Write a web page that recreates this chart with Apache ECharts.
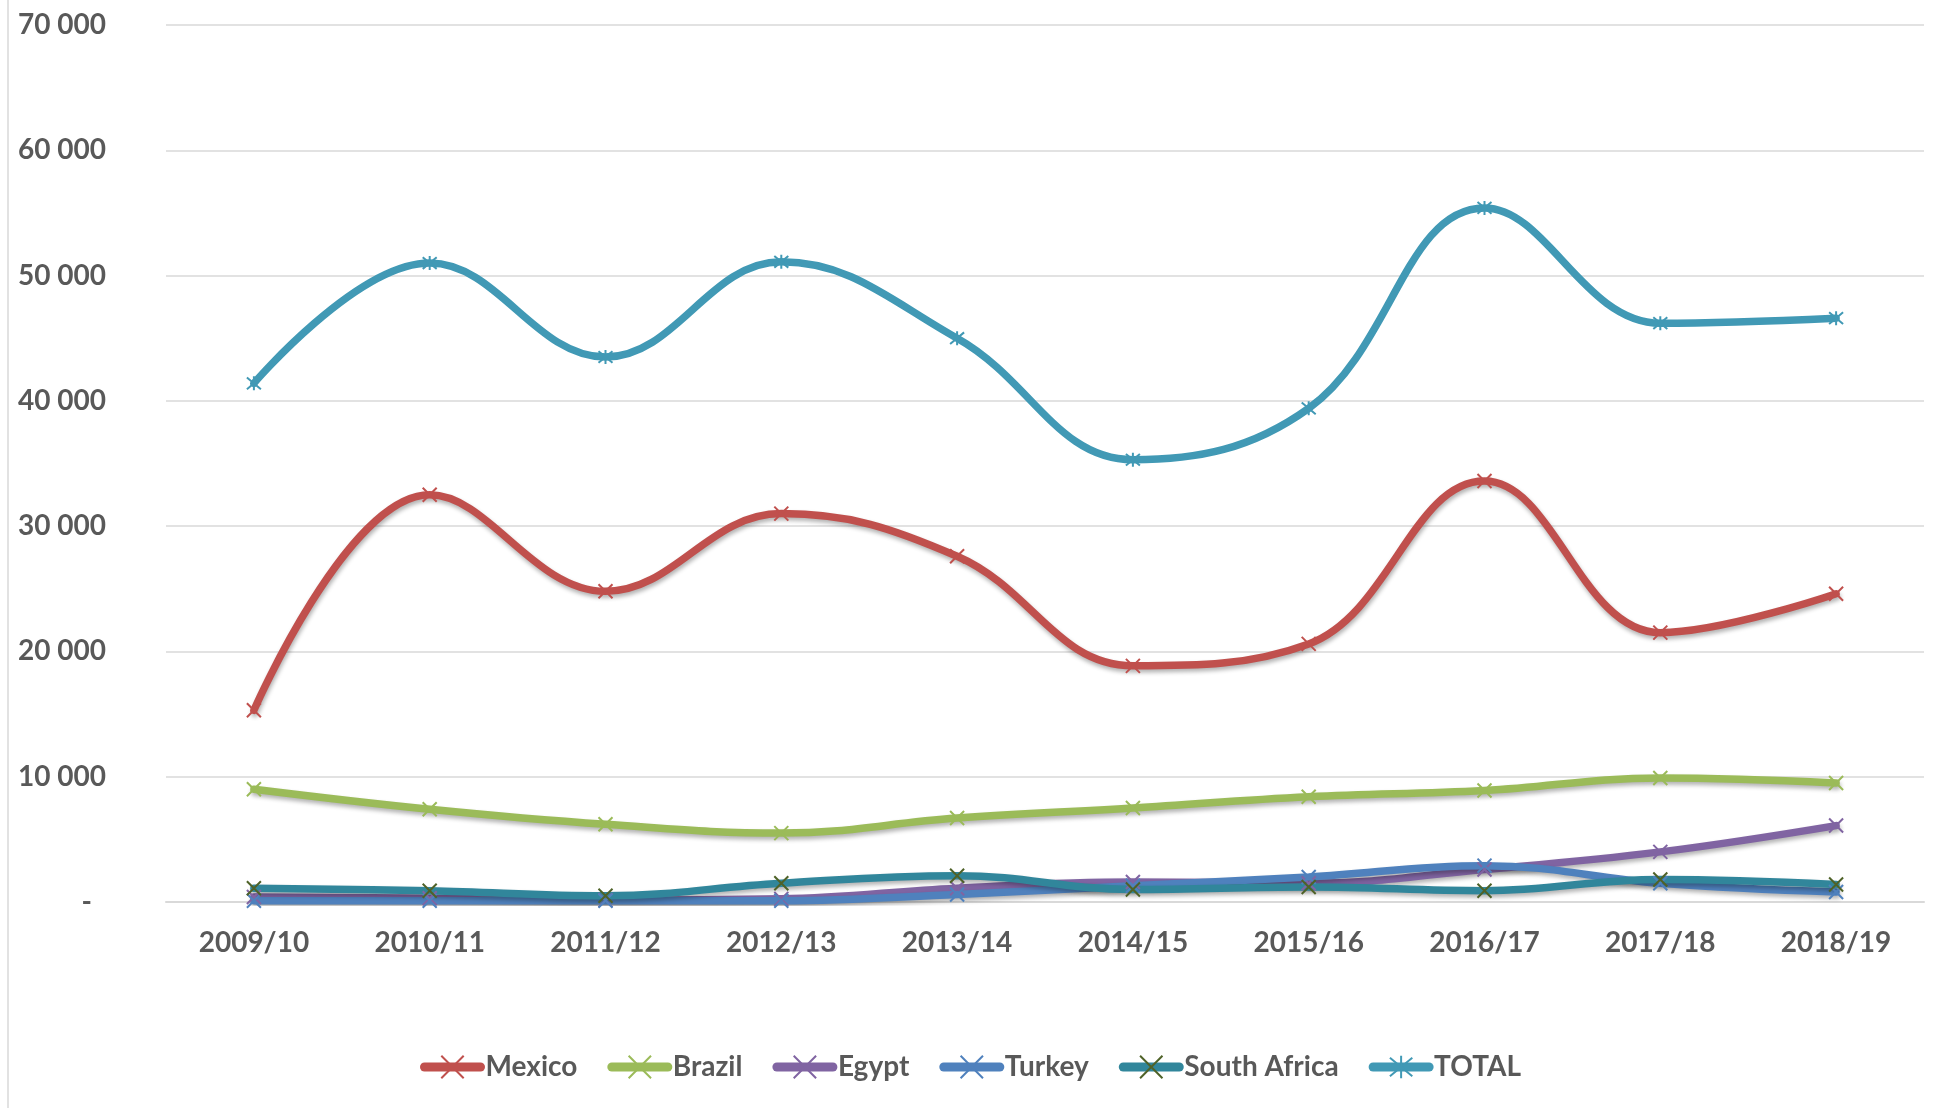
<!DOCTYPE html>
<html>
<head>
<meta charset="utf-8">
<script src="https://cdn.jsdelivr.net/npm/echarts@6/dist/echarts.min.js"></script>
<style>html,body{margin:0;padding:0;background:#fff;}#c{width:1941px;height:1108px;}</style>
</head>
<body>
<div id="c"></div>
<script>
var categories = ['2009/10','2010/11','2011/12','2012/13','2013/14','2014/15','2015/16','2016/17','2017/18','2018/19'];
var mexico = [15300, 32500, 24800, 31000, 27600, 18850, 20600, 33600, 21500, 24600];
var brazil = [9000, 7400, 6200, 5500, 6700, 7500, 8400, 8900, 9900, 9500];
var egypt = [400, 300, 150, 250, 1100, 1600, 1500, 2600, 4000, 6100];
var turkey = [100, 100, 100, 100, 600, 1300, 2000, 2900, 1500, 800];
var southAfrica = [1100, 900, 500, 1500, 2100, 1000, 1200, 900, 1800, 1400];
var total = [41400, 51000, 43500, 51100, 45000, 35300, 39400, 55400, 46200, 46600];
var yTicks = [0, 10000, 20000, 30000, 40000, 50000, 60000, 70000];

var FONT = 'Lato';
var XPATH = 'path://M0,0L10,10M10,0L0,10';
var STARPATH = 'path://M0,0L10,10M10,0L0,10M5,-1L5,11';

function mk(name, data, color, markerColor, sym, shadow) {
  return {
    name: name, type: 'line', data: data, smooth: 0.4,
    symbol: sym, symbolSize: 14, showSymbol: true,
    color: color,
    lineStyle: {
      width: 7.5, color: color, cap: 'round',
      shadowColor: shadow ? 'rgba(0,0,0,0.30)' : 'transparent',
      shadowBlur: shadow ? 4 : 0, shadowOffsetX: shadow ? 1 : 0, shadowOffsetY: shadow ? 3 : 0
    },
    itemStyle: { color: markerColor, borderColor: markerColor, borderWidth: 2 },
    emphasis: { disabled: true }
  };
}

var chart = echarts.init(document.getElementById('c'));
chart.setOption({
  animation: false,
  backgroundColor: '#ffffff',
  graphic: [{
    type: 'rect', silent: true, z: -1,
    shape: { x: 8, y: -10, width: 2000, height: 1200 },
    style: { fill: 'none', stroke: '#d9d9d9', lineWidth: 1.5 }
  }],
  grid: { left: 166, right: 17, top: 25, bottom: 206, containLabel: false },
  legend: {
    top: 1048, left: 'center',
    itemWidth: 56, itemHeight: 28, itemGap: 30,
    lineStyle: { width: 9, cap: 'round', shadowBlur: 0, shadowOffsetX: 0, shadowOffsetY: 0, shadowColor: 'transparent' },
    textStyle: { fontFamily: FONT, fontWeight: 'bold', fontSize: 28, color: '#595959' },
    data: ['Mexico','Brazil','Egypt','Turkey','South Africa','TOTAL']
  },
  xAxis: {
    type: 'category', data: categories, boundaryGap: true,
    axisLine: { lineStyle: { color: '#d9d9d9', width: 2 } },
    axisTick: { show: false },
    axisLabel: { margin: 27, fontFamily: FONT, fontWeight: 'bold', fontSize: 28, color: '#595959' }
  },
  yAxis: {
    type: 'value', min: yTicks[0], max: yTicks[yTicks.length - 1], interval: 10000,
    axisLine: { show: false }, axisTick: { show: false },
    splitLine: { lineStyle: { color: '#d9d9d9', width: 1.5 } },
    axisLabel: {
      margin: 60, fontFamily: FONT, fontWeight: 'bold', fontSize: 28, color: '#595959',
      formatter: function (v) {
        if (v === 0) return '{d|-}';
        return String(v).replace(/\B(?=(\d{3})+(?!\d))/g, ' ');
      },
      rich: { d: { fontFamily: FONT, fontWeight: 'bold', fontSize: 28, color: '#595959', padding: [0, 14, 0, 0] } }
    }
  },
  series: [
    mk('Mexico', mexico, '#c0504d', '#c0504d', XPATH, true),
    mk('Brazil', brazil, '#9bbb59', '#9bbb59', XPATH, true),
    mk('Egypt', egypt, '#8064a2', '#8064a2', XPATH, true),
    mk('Turkey', turkey, '#4f81bd', '#4f81bd', XPATH, true),
    mk('South Africa', southAfrica, '#31869b', '#4f6228', XPATH, true),
    mk('TOTAL', total, '#4199b5', '#4199b5', STARPATH, false)
  ]
});
</script>
</body>
</html>
